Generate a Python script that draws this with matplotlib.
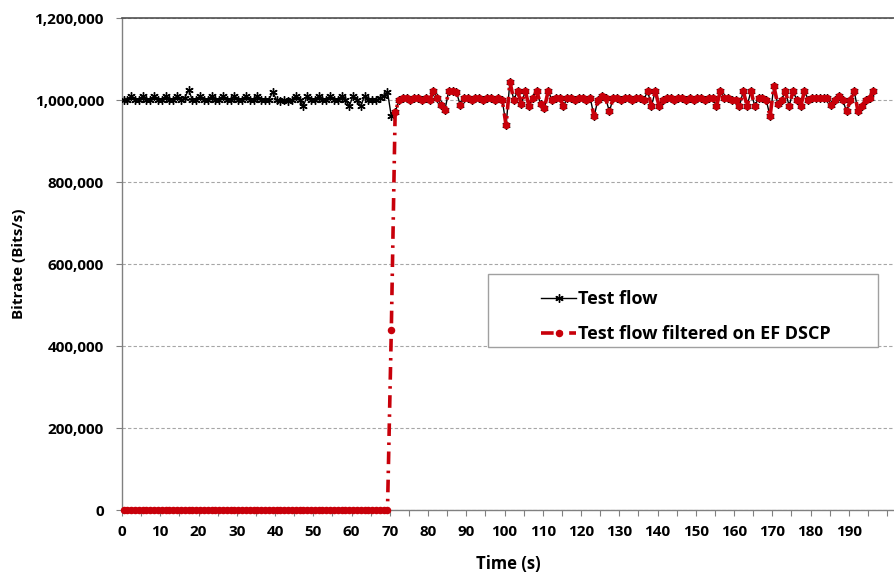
import matplotlib
matplotlib.use("Agg")
import matplotlib.pyplot as plt
from matplotlib.patches import Rectangle
from matplotlib.ticker import FuncFormatter, MultipleLocator
import numpy as np

# Test flow before the EF marking kicks in (t = 0..70)
test_flow_head = [
    1000000, 1000000, 1010000, 1000000, 1000000, 1010000, 1000000, 1000000,
    1010000, 1000000, 1000000, 1010000, 1000000, 1000000, 1010000, 1000000,
    1005000, 1025000, 1000000, 1000000, 1010000, 1000000, 1000000, 1010000,
    1000000, 1000000, 1010000, 1000000, 1000000, 1010000, 1000000, 1000000,
    1010000, 1000000, 1000000, 1010000, 1000000, 1000000, 1000000, 1020000,
    1000000, 998000, 1000000, 998000, 1000000, 1010000, 1000000, 985000,
    1010000, 1000000, 1000000, 1010000, 1000000, 1000000, 1010000, 1000000,
    1000000, 1010000, 1000000, 985000, 1010000, 1000000, 985000, 1010000,
    1000000, 1000000, 1000000, 1005000, 1010000, 1020000, 960000,
]

# filtered flow once it is marked EF (t = 71..196)
filtered_tail = [
    970000, 1000000, 1005000, 1005000, 1000000, 1005000, 1005000, 1000000,
    1005000, 1000000, 1022000, 1005000, 988000, 975000, 1022000, 1022000,
    1020000, 988000, 1005000, 1005000, 1000000, 1005000, 1005000, 1000000,
    1005000, 1005000, 1000000, 1005000, 1000000, 938000, 1045000, 1000000,
    1022000, 990000, 1022000, 985000, 1005000, 1022000, 990000, 980000,
    1022000, 1000000, 1005000, 1005000, 985000, 1005000, 1005000, 1000000,
    1005000, 1005000, 1000000, 1005000, 960000, 1000000, 1010000, 1005000,
    972000, 1005000, 1005000, 1000000, 1005000, 1005000, 1000000, 1005000,
    1005000, 1000000, 1022000, 985000, 1022000, 985000, 1000000, 1005000,
    1005000, 1000000, 1005000, 1005000, 1000000, 1005000, 1000000, 1005000,
    1005000, 1000000, 1005000, 1005000, 985000, 1022000, 1005000, 1005000,
    1000000, 1000000, 985000, 1022000, 985000, 1022000, 985000, 1005000,
    1005000, 1000000, 960000, 1034000, 990000, 1000000, 1022000, 985000,
    1022000, 1000000, 985000, 1022000, 1000000, 1005000, 1005000, 1005000,
    1005000, 1005000, 988000, 1000000, 1010000, 1000000, 972000, 1000000,
    1022000, 972000, 985000, 1000000, 1005000, 1022000,
]

# zero until t = 69, then the ramp point at t = 70
filtered_head = [0] * 70 + [440000]

X_TICK_LABELS = list(range(0, 200, 10))

test_flow = np.array(test_flow_head + filtered_tail)
filtered = np.array(filtered_head + filtered_tail)
time_s = np.arange(len(test_flow)) + 0.4  # one sample per second

plt.rcParams["font.family"] = ["Open Sans", "DejaVu Sans"]
plt.rcParams["font.weight"] = "bold"

fig = plt.figure(figsize=(8.94, 5.73), dpi=100)
ax = fig.add_axes([122 / 894, 63 / 573, 772 / 894, 492 / 573])

red = "#C8000A"
ax.plot(time_s, test_flow, color="black", lw=1.0, marker=(6, 2, 0),
        markersize=6, markeredgewidth=1.0, label="Test flow", zorder=3)
ax.plot(time_s, filtered, color=red, lw=2.6, ls=(0, (3.5, 1.8, 0.7, 1.8)),
        marker="o", markersize=5.4, markeredgewidth=0, clip_on=False,
        label="Test flow filtered on EF DSCP", zorder=4)

ax.set_xlim(0, 201.8)
ax.set_ylim(0, 1200000)

ax.xaxis.set_major_locator(MultipleLocator(5))
ax.xaxis.set_major_formatter(FuncFormatter(
    lambda v, p: f"{int(round(v))}" if int(round(v)) in X_TICK_LABELS else ""))
ax.yaxis.set_major_locator(MultipleLocator(200000))
ax.yaxis.set_major_formatter(FuncFormatter(lambda v, p: f"{int(v):,}"))

ax.tick_params(axis="both", direction="out", length=4, width=0.8,
               color="#808080", labelsize=11)
ax.tick_params(axis="y", pad=9)
ax.tick_params(axis="x", pad=7)
for lbl in ax.get_xticklabels() + ax.get_yticklabels():
    lbl.set_fontweight("bold")

ax.yaxis.grid(True, ls=(0, (3, 2)), color="#a6a6a6", lw=0.8)
ax.set_axisbelow(True)

for side in ("left", "bottom"):
    ax.spines[side].set_color("#808080")
    ax.spines[side].set_linewidth(1.0)
ax.spines["right"].set_visible(False)
ax.spines["top"].set_color("#505050")
ax.spines["top"].set_linestyle((0, (3, 1)))
ax.spines["top"].set_linewidth(1.2)

ax.set_xlabel("Time (s)", fontsize=12, fontweight="bold", labelpad=11)
ax.set_ylabel("Bitrate (Bits/s)", fontsize=11, fontweight="bold", labelpad=6)

# legend box drawn separately so its contents can sit indented
box = Rectangle((0.474, 0.331), 0.505, 0.148, transform=ax.transAxes,
                facecolor="white", edgecolor="#a0a0a0", lw=1.0, zorder=5)
ax.add_patch(box)
ax.legend(loc="upper left", bbox_to_anchor=(0.52, 0.484), frameon=False,
          handlelength=1.9, handletextpad=0.12,
          labelspacing=0.95, borderpad=0.5,
          prop={"weight": "bold", "size": 13}).set_zorder(6)

fig.savefig("out.png", dpi=100)
